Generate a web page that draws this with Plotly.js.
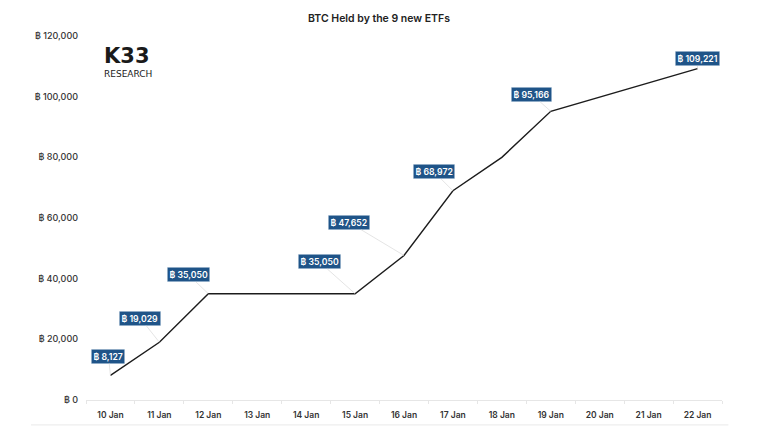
<!DOCTYPE html>
<html>
<head>
<meta charset="utf-8">
<script src="https://cdn.plot.ly/plotly-3.0.1.min.js"></script>
<style>html, body { margin: 0; padding: 0; background: #fff; }</style>
</head>
<body>
<div id="chart" style="width:775px;height:439px;"></div>
<script>
var days = ['10 Jan', '11 Jan', '12 Jan', '13 Jan', '14 Jan', '15 Jan', '16 Jan', '17 Jan', '18 Jan', '19 Jan', '20 Jan', '21 Jan', '22 Jan'];
// no reading on the weekend days, the line just runs across them
var btcHeld = [8127, 19029, 35050, null, null, 35050, 47652, 68972, 80000, 95166, null, null, 109221];
var labelledDays = ['10 Jan', '11 Jan', '12 Jan', '15 Jan', '16 Jan', '17 Jan', '19 Jan', '22 Jan'];
var labelOffsetX = [-2, -19, -20, -36, -55, -19, -19, 0];
var labelOffsetY = [-19, -24, -19, -32, -33, -19, -17, -10];

var FONT = 'Inter, "Open Sans", sans-serif';
var LOGO_FONT = '"DejaVu Sans", sans-serif';

var annotations = labelledDays.map(function (day, i) {
    var value = btcHeld[days.indexOf(day)];
    return {
        x: day,
        y: value,
        xref: 'x',
        yref: 'y',
        text: '฿ ' + value.toLocaleString('en-US'),
        showarrow: true,
        arrowhead: 0,
        arrowwidth: 0.7,
        arrowcolor: '#d9d9d9',
        ax: labelOffsetX[i],
        ay: labelOffsetY[i],
        bgcolor: '#1f5488',
        bordercolor: '#c9d8e6',
        borderwidth: 0.5,
        borderpad: 2,
        font: {family: FONT, size: 8.7, color: '#ffffff', weight: 600}
    };
});

// logo, one annotation so the two lines sit tight together
annotations.push({
    xref: 'paper', yref: 'paper', x: 0.0283, y: 0.931,
    xanchor: 'left', yanchor: 'middle', align: 'left', showarrow: false,
    text: '<span style="font-size:21px"><b>K33</b></span><br><span style="font-size:9px">RESEARCH</span>',
    borderpad: 0, borderwidth: 0,
    font: {family: LOGO_FONT, size: 10.5, color: '#1a1a1a'}
});

var trace = {
    x: days,
    y: btcHeld,
    type: 'scatter',
    mode: 'lines',
    connectgaps: true,
    line: {color: '#1c1c1c', width: 1.4},
    hoverinfo: 'x+y'
};

var layout = {
    width: 775,
    height: 439,
    margin: {l: 86, r: 53, t: 35.5, b: 38.5},
    paper_bgcolor: '#ffffff',
    plot_bgcolor: '#ffffff',
    showlegend: false,
    title: {
        text: 'BTC Held by the 9 new ETFs',
        x: 379 / 775,
        xanchor: 'center',
        y: 1 - 18 / 439,
        yanchor: 'middle',
        font: {family: FONT, size: 10.5, color: '#222222', weight: 600}
    },
    xaxis: {
        type: 'category',
        range: [-0.5, 12.5],
        tickson: 'boundaries',
        ticks: 'outside',
        ticklen: 3,
        tickcolor: '#e6e6e6',
        tickwidth: 0.7,
        ticklabelstandoff: 7,
        showline: true,
        linecolor: '#e6e6e6',
        linewidth: 0.7,
        showgrid: false,
        zeroline: false,
        tickfont: {family: FONT, size: 8.5, color: '#333333', weight: 600}
    },
    yaxis: {
        range: [0, 120000],
        tick0: 0,
        dtick: 20000,
        tickprefix: '฿ ',
        tickformat: ',d',
        showgrid: false,
        showline: false,
        zeroline: false,
        ticks: '',
        ticklabelstandoff: 7,
        automargin: false,
        tickfont: {family: FONT, size: 9, color: '#333333', weight: 500}
    },
    annotations: annotations,
    shapes: [{
        type: 'line',
        xref: 'paper', yref: 'paper',
        x0: -0.0865, x1: 1.01, y0: -0.0685, y1: -0.0685,
        line: {color: '#e3e3e3', width: 0.8}
    }]
};

Plotly.newPlot('chart', [trace], layout, {displayModeBar: false});
</script>
</body>
</html>
